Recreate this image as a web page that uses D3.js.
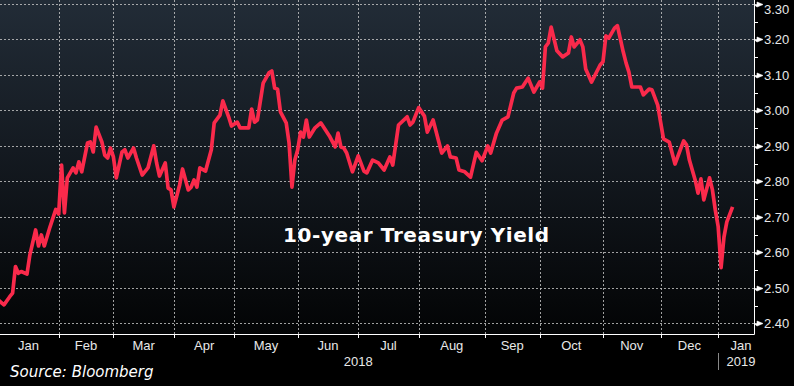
<!DOCTYPE html>
<html>
<head>
<meta charset="utf-8">
<script src="https://cdn.jsdelivr.net/npm/d3@7"></script>
<style>
  body { margin: 0; background: #000; }
  svg { display: block; }
</style>
</head>
<body>
<script>
// 10-year Treasury yield, daily closes (trading days only)
var dates = [
  "2018-01-02","2018-01-04","2018-01-08","2018-01-09","2018-01-10","2018-01-11","2018-01-12","2018-01-17","2018-01-18","2018-01-22",
  "2018-01-23","2018-01-24","2018-01-25","2018-01-29","2018-01-31","2018-02-01","2018-02-02","2018-02-05","2018-02-06","2018-02-08",
  "2018-02-09","2018-02-12","2018-02-13","2018-02-15","2018-02-16","2018-02-20","2018-02-21","2018-02-23","2018-02-26","2018-02-27",
  "2018-02-28","2018-03-01","2018-03-02","2018-03-06","2018-03-07","2018-03-08","2018-03-12","2018-03-13","2018-03-15","2018-03-19",
  "2018-03-21","2018-03-22","2018-03-23","2018-03-27","2018-03-28","2018-03-29","2018-04-02","2018-04-04","2018-04-05","2018-04-09",
  "2018-04-10","2018-04-11","2018-04-12","2018-04-13","2018-04-17","2018-04-19","2018-04-20","2018-04-24","2018-04-25","2018-04-27",
  "2018-04-30","2018-05-02","2018-05-03","2018-05-08","2018-05-09","2018-05-10","2018-05-11","2018-05-15","2018-05-17","2018-05-18",
  "2018-05-21","2018-05-22","2018-05-23","2018-05-25","2018-05-29","2018-05-30","2018-05-31","2018-06-01","2018-06-04","2018-06-05",
  "2018-06-06","2018-06-07","2018-06-11","2018-06-13","2018-06-18","2018-06-20","2018-06-21","2018-06-22","2018-06-25","2018-06-26",
  "2018-06-28","2018-07-02","2018-07-05","2018-07-06","2018-07-10","2018-07-12","2018-07-16","2018-07-18","2018-07-19","2018-07-23",
  "2018-07-26","2018-07-27","2018-07-30","2018-08-01","2018-08-03","2018-08-06","2018-08-08","2018-08-09","2018-08-13","2018-08-15",
  "2018-08-16","2018-08-20","2018-08-21","2018-08-23","2018-08-27","2018-08-29","2018-08-31","2018-09-05","2018-09-06","2018-09-10",
  "2018-09-12","2018-09-14","2018-09-18","2018-09-19","2018-09-21","2018-09-25","2018-09-27","2018-10-01","2018-10-02","2018-10-03",
  "2018-10-04","2018-10-05","2018-10-10","2018-10-12","2018-10-16","2018-10-17","2018-10-18","2018-10-22","2018-10-23","2018-10-24",
  "2018-10-26","2018-10-31","2018-11-01","2018-11-02","2018-11-05","2018-11-07","2018-11-08","2018-11-13","2018-11-14","2018-11-15",
  "2018-11-16","2018-11-21","2018-11-23","2018-11-27","2018-11-28","2018-11-30","2018-12-03","2018-12-04","2018-12-06","2018-12-10",
  "2018-12-13","2018-12-14","2018-12-17","2018-12-19","2018-12-20","2018-12-21","2018-12-24","2018-12-27","2018-12-28","2018-12-31",
  "2019-01-02","2019-01-03","2019-01-04","2019-01-07","2019-01-09"
]
var yields = [
  2.466,2.452,2.475,2.485,2.560,2.541,2.546,2.539,2.593,2.663,
  2.618,2.649,2.618,2.672,2.721,2.708,2.846,2.711,2.810,2.838,
  2.824,2.855,2.827,2.908,2.911,2.883,2.953,2.911,2.874,2.866,
  2.894,2.869,2.810,2.883,2.889,2.866,2.894,2.866,2.818,2.838,
  2.900,2.852,2.815,2.852,2.781,2.776,2.728,2.790,2.835,2.776,
  2.784,2.804,2.784,2.838,2.829,2.889,2.965,2.987,3.027,2.982,
  2.956,2.967,2.951,2.951,3.004,2.967,2.973,3.077,3.106,3.111,
  3.063,3.060,2.996,2.965,2.908,2.784,2.860,2.889,2.939,2.925,
  2.973,2.925,2.951,2.965,2.928,2.897,2.936,2.897,2.894,2.880,
  2.827,2.872,2.829,2.824,2.860,2.852,2.832,2.869,2.846,2.959,
  2.982,2.959,2.967,3.008,2.984,2.939,2.973,2.942,2.880,2.900,
  2.869,2.866,2.832,2.827,2.812,2.882,2.858,2.900,2.880,2.936,
  2.973,2.982,3.049,3.063,3.066,3.091,3.052,3.080,3.063,3.179,
  3.190,3.235,3.168,3.151,3.162,3.207,3.179,3.199,3.179,3.117,
  3.080,3.128,3.137,3.210,3.204,3.232,3.239,3.166,3.134,3.108,
  3.066,3.066,3.044,3.060,3.058,3.015,2.967,2.920,2.911,2.849,
  2.914,2.903,2.860,2.804,2.767,2.807,2.748,2.810,2.776,2.719,
  2.672,2.557,2.643,2.686,2.728
]

// bond market holidays (the x axis only counts trading days)
var holidays = ["2018-01-01","2018-01-15","2018-02-19","2018-03-30","2018-05-28","2018-07-04",
                "2018-09-03","2018-10-08","2018-11-12","2018-11-22","2018-12-25","2019-01-01"]

var monthStarts = ["2018-01-01","2018-02-01","2018-03-01","2018-04-01","2018-05-01","2018-06-01","2018-07-01",
                   "2018-08-01","2018-09-01","2018-10-01","2018-11-01","2018-12-01","2019-01-01","2019-02-01"]
var monthLabels = ["Jan","Feb","Mar","Apr","May","Jun","Jul","Aug","Sep","Oct","Nov","Dec","Jan"]
var yearLabels = ["2018","2019"]
var yTicks = [2.40,2.50,2.60,2.70,2.80,2.90,3.00,3.10,3.20,3.30]
var title = "10-year Treasury Yield"
var source = "Source: Bloomberg"

var width = 794, height = 386
var plotW = 754, plotH = 334

var parse = d3.timeParse("%Y-%m-%d")
var fmt = d3.timeFormat("%Y-%m-%d")
var holidaySet = new Set(holidays)
var day0 = parse("2018-01-02")

function tradeIndex(d) {        // trading days before d, counted from the first one in the data
    return d3.timeDay.range(day0, d).filter(function(t) {
        return t.getDay() % 6 !== 0 && !holidaySet.has(fmt(t))
    }).length
}

var data = dates.map(function(d, i) { return {date: parse(d), value: yields[i]} })
data.forEach(function(d) { d.idx = tradeIndex(d.date) })

var x = d3.scaleLinear()
    .domain([0, tradeIndex(parse("2019-01-01"))])
    .range([-1.8, 718.2])

var y = d3.scaleLinear()
    .domain([2.40, 3.30])
    .range([323.3, 4])

var svg = d3.select("body")
    .append("svg")
    .attr("width", width)
    .attr("height", height)

svg.append("rect")
    .attr("width", width)
    .attr("height", height)
    .attr("fill", "#000")

var defs = svg.append("defs")
var grad = defs.append("linearGradient")
    .attr("id", "bg")
    .attr("x1", 0).attr("y1", 0)
    .attr("x2", 0).attr("y2", 1)
grad.append("stop").attr("offset", "0%").attr("stop-color", "#222c37")
grad.append("stop").attr("offset", "55%").attr("stop-color", "#11161c")
grad.append("stop").attr("offset", "100%").attr("stop-color", "#030405")

defs.append("clipPath")
    .attr("id", "clip")
    .append("rect")
    .attr("width", plotW)
    .attr("height", plotH)

svg.append("rect")
    .attr("width", plotW)
    .attr("height", plotH)
    .attr("fill", "url(#bg)")

// grid
var monthX = monthStarts.map(function(m) { return x(tradeIndex(parse(m))) })

svg.append("g")
    .selectAll("line")
    .data(yTicks)
    .enter()
    .append("line")
    .attr("x1", 0)
    .attr("x2", plotW)
    .attr("y1", function(d) { return Math.round(y(d)) + 0.5 })
    .attr("y2", function(d) { return Math.round(y(d)) + 0.5 })
    .attr("stroke", "#c8c8c8")
    .attr("stroke-opacity", 0.8)
    .attr("stroke-dasharray", "2,2")

svg.append("g")
    .selectAll("line")
    .data(monthX.slice(1, 13))
    .enter()
    .append("line")
    .attr("x1", function(d) { return Math.round(d) + 0.5 })
    .attr("x2", function(d) { return Math.round(d) + 0.5 })
    .attr("y1", 0)
    .attr("y2", plotH)
    .attr("stroke", "#c8c8c8")
    .attr("stroke-opacity", 0.8)
    .attr("stroke-dasharray", "2,2")

// title
svg.append("text")
    .attr("x", 283)
    .attr("y", 242)
    .attr("fill", "#fff")
    .style("font-family", "'DejaVu Sans', sans-serif")
    .style("font-weight", "bold")
    .style("font-size", "20px")
    .style("letter-spacing", "0.6px")
    .text(title)

// the yield line
var line = d3.line()
    .x(function(d) { return x(d.idx) })
    .y(function(d) { return y(d.value) })

svg.append("path")
    .datum(data)
    .attr("clip-path", "url(#clip)")
    .attr("d", line)
    .attr("fill", "none")
    .attr("stroke", "#fa2a4b")
    .attr("stroke-width", 3.7)
    .attr("stroke-linejoin", "round")

// axes frame
svg.append("line")
    .attr("x1", 0).attr("x2", plotW + 0.5)
    .attr("y1", plotH + 0.5).attr("y2", plotH + 0.5)
    .attr("stroke", "#fff")
svg.append("line")
    .attr("x1", plotW + 0.5).attr("x2", plotW + 0.5)
    .attr("y1", 0).attr("y2", plotH + 0.5)
    .attr("stroke", "#fff")

// y axis: arrow marks on the right, minor ticks in between
var yAxis = svg.append("g")
yAxis.selectAll("path")
    .data(yTicks)
    .enter()
    .append("path")
    .attr("d", function(d) {
        var ty = Math.round(y(d)) + 0.5
        return "M" + plotW + "," + ty + "H757L757," + (ty - 2.5) + "L763," + ty + "L757," + (ty + 2.5) + "Z"
    })
    .attr("fill", "#fff")
    .attr("stroke", "#fff")
    .attr("stroke-width", 0.6)

yAxis.selectAll("line")
    .data(yTicks.slice(0, -1))
    .enter()
    .append("line")
    .attr("x1", plotW)
    .attr("x2", plotW + 4)
    .attr("y1", function(d) { return Math.round(y(d + 0.05)) + 0.5 })
    .attr("y2", function(d) { return Math.round(y(d + 0.05)) + 0.5 })
    .attr("stroke", "#fff")

yAxis.selectAll("text")
    .data(yTicks)
    .enter()
    .append("text")
    .attr("x", 764)
    .attr("y", function(d) { return Math.max(y(d), 9) })     // top label is nudged down to stay inside
    .attr("dy", "0.36em")
    .attr("fill", "#e8e8e8")
    .style("font-family", "'Liberation Sans', Arial, sans-serif")
    .style("font-size", "13px")
    .text(function(d) { return d.toFixed(2) })

// x axis: month ticks, labels centred in each month
var xAxis = svg.append("g")
xAxis.selectAll("line")
    .data(monthX.slice(1, 13))
    .enter()
    .append("line")
    .attr("x1", function(d) { return Math.round(d) + 0.5 })
    .attr("x2", function(d) { return Math.round(d) + 0.5 })
    .attr("y1", plotH)
    .attr("y2", plotH + 4)
    .attr("stroke", "#fff")

xAxis.selectAll("text")
    .data(monthLabels)
    .enter()
    .append("text")
    .attr("x", function(d, i) { return Math.min((monthX[i] + monthX[i + 1]) / 2, plotW - 13) })
    .attr("y", 350)
    .attr("text-anchor", "middle")
    .attr("fill", "#e8e8e8")
    .style("font-family", "'Liberation Sans', Arial, sans-serif")
    .style("font-size", "13px")
    .text(function(d) { return d })

var yearX = [(monthX[0] + monthX[12]) / 2, Math.min((monthX[12] + monthX[13]) / 2, plotW - 13)]
svg.selectAll(".year")
    .data(yearLabels)
    .enter()
    .append("text")
    .attr("class", "year")
    .attr("x", function(d, i) { return yearX[i] })
    .attr("y", 366)
    .attr("text-anchor", "middle")
    .attr("fill", "#e8e8e8")
    .style("font-family", "'Liberation Sans', Arial, sans-serif")
    .style("font-size", "13px")
    .text(function(d) { return d })

svg.append("line")          // year separator
    .attr("x1", Math.round(monthX[12]) + 0.5)
    .attr("x2", Math.round(monthX[12]) + 0.5)
    .attr("y1", 353)
    .attr("y2", 370)
    .attr("stroke", "#888")

svg.append("text")
    .attr("x", 10)
    .attr("y", 377)
    .attr("fill", "#fff")
    .style("font-family", "'DejaVu Sans', sans-serif")
    .style("font-style", "italic")
    .style("font-size", "15px")
    .text(source)
</script>
</body>
</html>
